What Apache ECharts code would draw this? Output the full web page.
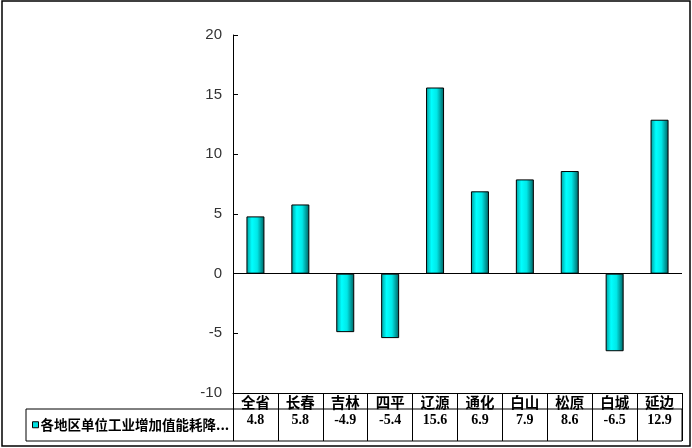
<!DOCTYPE html>
<html>
<head>
<meta charset="utf-8">
<script src="https://cdn.jsdelivr.net/npm/echarts@6/dist/echarts.min.js"></script>
<style>html,body{margin:0;padding:0;background:#fff;}#c{width:692px;height:448px;}</style>
</head>
<body>
<div id="c"></div>
<script>
var categories = ['全省','长春','吉林','四平','辽源','通化','白山','松原','白城','延边'];
var values = [4.8, 5.8, -4.9, -5.4, 15.6, 6.9, 7.9, 8.6, -6.5, 12.9];
var seriesName = '各地区单位工业增加值能耗降低率';
var yTicks = {min: -10, max: 20, interval: 5};

var chart = echarts.init(document.getElementById('c'));
var barGrad = new echarts.graphic.LinearGradient(0, 0, 1, 0, [
  {offset: 0, color: '#009a9a'},
  {offset: 0.3, color: '#00ffff'},
  {offset: 0.6, color: '#00e8e8'},
  {offset: 1, color: '#005e5e'}
]);
chart.setOption({
  backgroundColor: '#fff',
  animation: false,
  grid: {left: 233, top: 35, width: 449, height: 358, containLabel: false},
  legend: {
    left: 27, top: 413,
    itemWidth: 6, itemHeight: 6, itemGap: 0,
    icon: 'rect',
    itemStyle: {color: '#00e0e0', borderColor: '#000', borderWidth: 1},
    textStyle: {fontSize: 13.5, fontWeight: 'bold', color: '#000', fontFamily: 'Noto Sans CJK SC',
      width: 190, overflow: 'truncate', ellipsis: '...', padding: [0,0,0,-3]},
    data: [seriesName]
  },
  xAxis: [{
    type: 'category', data: categories, position: 'bottom',
    axisLine: {onZero: false, lineStyle: {color: '#000', width: 1}},
    axisTick: {show: true, inside: false, length: 48, lineStyle: {color: '#000'}},
    axisLabel: {margin: 2, fontSize: 14.5, fontWeight: 'bold', color: '#000', fontFamily: 'Noto Sans CJK SC'},
    splitLine: {show: false}
  }, {
    type: 'category', data: values.map(function(v){return v.toFixed(1);}), position: 'bottom', offset: 20,
    axisLine: {show: false}, axisTick: {show: false},
    axisLabel: {margin: 0, fontSize: 14, fontWeight: 'bold', color: '#000', fontFamily: 'Liberation Serif'},
    splitLine: {show: false}
  }],
  yAxis: {
    type: 'value', min: yTicks.min, max: yTicks.max, interval: yTicks.interval,
    axisLine: {show: true, lineStyle: {color: '#000'}},
    axisTick: {show: true, inside: true, length: 5, lineStyle: {color: '#000'}},
    axisLabel: {margin: 11, fontSize: 15, color: '#333', fontFamily: 'Liberation Sans'},
    splitLine: {show: false}
  },
  series: [{
    name: seriesName, type: 'bar', data: values, barWidth: 18,
    itemStyle: {color: barGrad, borderColor: '#000', borderWidth: 1},
    markLine: {silent: true, symbol: 'none', label: {show: false},
      lineStyle: {color: '#000', width: 1, type: 'solid'}, data: [{yAxis: 0}]}
  }],
  graphic: [
    {type: 'rect', shape: {x: 26, y: 409, width: 656, height: 32}, style: {fill: 'none', stroke: '#000', lineWidth: 1}, z: 10},
    {type: 'rect', shape: {x: 2, y: 1, width: 688, height: 445}, style: {fill: 'none', stroke: '#000', lineWidth: 1.5}, z: 10}
  ]
});
</script>
</body>
</html>
